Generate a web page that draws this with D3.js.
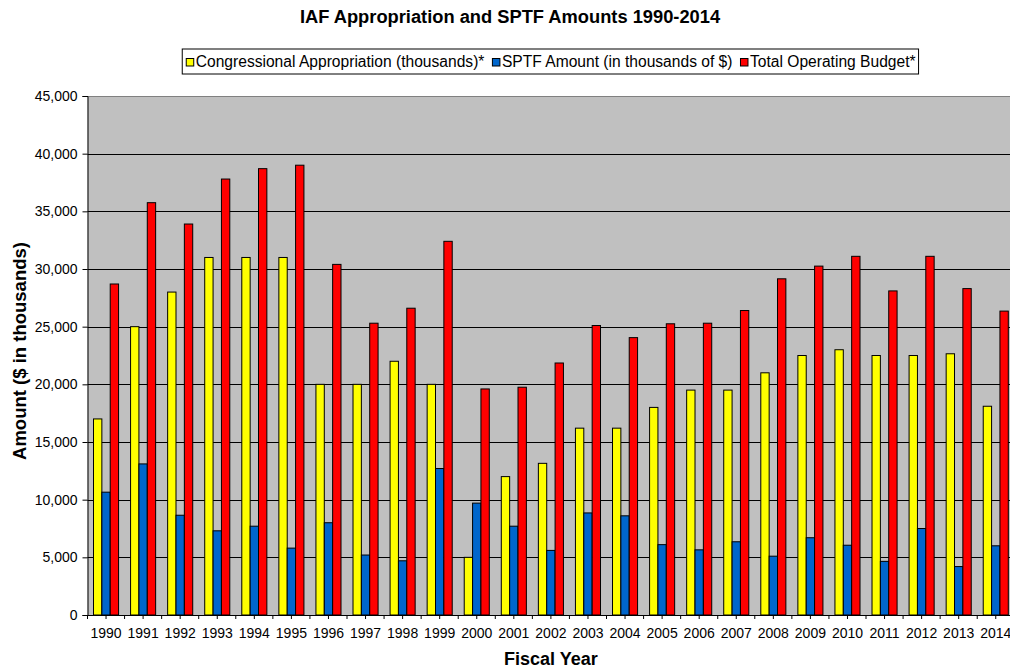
<!DOCTYPE html>
<html>
<head>
<meta charset="utf-8">
<script src="https://cdn.jsdelivr.net/npm/d3@7"></script>
<style>
  html, body { margin: 0; padding: 0; background: #fff; }
  svg { display: block; font-family: "Liberation Sans", Arial, sans-serif; }
</style>
</head>
<body>
<svg id="chart" width="1010" height="670"></svg>
<script>
const years = ["1990","1991","1992","1993","1994","1995","1996","1997","1998","1999","2000","2001","2002","2003","2004","2005","2006","2007","2008","2009","2010","2011","2012","2013","2014"];
const congressional = [17000, 25000, 28000, 31000, 31000, 31000, 20000, 20000, 22000, 20000, 5000, 12000, 13150, 16200, 16200, 18000, 19500, 19500, 21000, 22500, 23000, 22500, 22500, 22650, 18100];
const sptf = [10650, 13100, 8650, 7300, 7700, 5800, 8000, 5200, 4700, 12700, 9700, 7700, 5600, 8850, 8600, 6100, 5650, 6350, 5100, 6700, 6050, 4650, 7500, 4200, 6000];
const total = [28700, 35750, 33900, 37800, 38700, 39000, 30400, 25300, 26600, 32400, 19600, 19750, 21850, 25100, 24050, 25250, 25300, 26400, 29150, 30250, 31100, 28100, 31100, 28300, 26350];
const seriesNames = ["Congressional Appropriation (thousands)*", "SPTF Amount (in thousands of $)", "Total Operating Budget*"];
const seriesColors = ["#FFFF00", "#0066CC", "#FF0000"];
const yTicks = [0, 5000, 10000, 15000, 20000, 25000, 30000, 35000, 40000, 45000];

const series = [congressional, sptf, total];
const svg = d3.select("#chart");

const plot = { left: 87.5, right: 1014.3, top: 96, bottom: 615 };

const x = d3.scaleBand().domain(years).range([plot.left, plot.right])
  .paddingInner(12 / 37.07).paddingOuter(6 / 37.07);
const xs = d3.scaleBand().domain(d3.range(3)).range([0, x.bandwidth()]).padding(0);
const y = d3.scaleLinear().domain([0, 45000]).range([plot.bottom, plot.top]);

// title
svg.append("text").attr("x", 510).attr("y", 23).attr("text-anchor", "middle")
  .attr("font-size", 18.3).attr("font-weight", "bold").text("IAF Appropriation and SPTF Amounts 1990-2014");

// plot background
svg.append("rect").attr("x", plot.left).attr("y", plot.top)
  .attr("width", plot.right - plot.left).attr("height", plot.bottom - plot.top)
  .attr("fill", "#C0C0C0");

// gridlines
svg.append("g").selectAll("line").data(yTicks.filter(d => d > 0)).join("line")
  .attr("x1", plot.left).attr("x2", plot.right)
  .attr("y1", d => Math.round(y(d)) + 0.5).attr("y2", d => Math.round(y(d)) + 0.5)
  .attr("stroke", d => d === 45000 ? "#808080" : "#000").attr("stroke-width", 1);

// bars
const groups = svg.append("g").selectAll("g").data(years).join("g")
  .attr("transform", d => `translate(${x(d)},0)`);
groups.selectAll("rect").data((d, i) => series.map((s, k) => ({ k, v: s[i] }))).join("rect")
  .attr("x", d => xs(d.k)).attr("width", xs.bandwidth())
  .attr("y", d => y(d.v)).attr("height", d => y(0) - y(d.v))
  .attr("fill", d => seriesColors[d.k]).attr("stroke", "#000").attr("stroke-width", 1);

// y axis
const yAxis = d3.axisLeft(y).tickValues(yTicks).tickSize(5).tickPadding(5)
  .tickFormat(d3.format(","));
const gy = svg.append("g").attr("transform", `translate(${plot.left},0)`).call(yAxis);
gy.select(".domain").attr("stroke", "#000");
gy.selectAll(".tick line").attr("stroke", "#000");
gy.selectAll(".tick text").attr("font-size", 14).attr("font-family", "Liberation Sans, Arial, sans-serif").attr("fill", "#000");

// x axis
const xAxis = d3.axisBottom(x).tickSize(0).tickPadding(0);
const gx = svg.append("g").attr("transform", `translate(0,${plot.bottom})`).call(xAxis);
gx.select(".domain").attr("stroke", "#000").attr("d", `M${plot.left},0.5H${plot.right}`);
gx.selectAll(".tick text").attr("font-size", 14).attr("font-family", "Liberation Sans, Arial, sans-serif")
  .attr("fill", "#000").attr("dy", null).attr("y", 23);
// tick marks at category boundaries and centres
const step = x.step();
const x0 = plot.left;
const tickPos = d3.range(0, years.length * 2 + 1).map(i => x0 + i * step / 2);
gx.append("g").selectAll("line").data(tickPos).join("line")
  .attr("x1", d => d).attr("x2", d => d).attr("y1", 0).attr("y2", 4)
  .attr("stroke", "#000");

// axis titles
svg.append("text").attr("transform", `translate(26,351) rotate(-90)`)
  .attr("text-anchor", "middle").attr("font-size", 18.5).attr("font-weight", "bold")
  .text("Amount ($ in thousands)");
svg.append("text").attr("x", (plot.left + plot.right) / 2).attr("y", 665)
  .attr("text-anchor", "middle").attr("font-size", 18).attr("font-weight", "bold")
  .text("Fiscal Year");

// legend
const lg = svg.append("g");
const box = lg.append("rect").attr("fill", "#fff").attr("stroke", "#000").attr("stroke-width", 1);
let cx = 0;
const gap = 8;
seriesNames.forEach((name, i) => {
  const g = lg.append("g");
  g.append("rect").attr("x", cx).attr("y", -8.5).attr("width", 7.5).attr("height", 7.5)
    .attr("fill", seriesColors[i]).attr("stroke", "#000");
  const t = g.append("text").attr("x", cx + 9.5).attr("y", 0).attr("font-size", 15.6).text(name);
  const w = t.node().getComputedTextLength();
  cx += 9.5 + w + gap;
});
const legW = cx - gap;
const legLeft = (plot.left + plot.right) / 2 - legW / 2;
lg.attr("transform", `translate(${legLeft},67)`);
box.attr("x", -4).attr("y", -18).attr("width", legW + 7).attr("height", 25);
</script>
</body>
</html>
